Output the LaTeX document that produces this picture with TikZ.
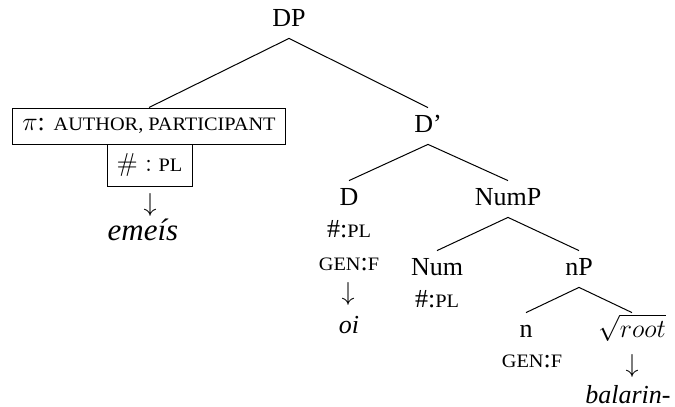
\RequirePackage{fix-cm}
\documentclass[tikz,border=0pt]{standalone}
\usepackage[no-math]{fontspec}
\setmainfont{Liberation Serif}
% stretched capitals stand in for small caps
\newfontfamily\capsfont[FakeStretch=1.07]{Liberation Serif}
\newcommand{\fsc}[1]{{\capsfont\fontsize{9.5}{10}\selectfont #1}}

\begin{document}
\begin{tikzpicture}[x=0.5pt,y=-0.5pt,
  every node/.style={font=\fontsize{13}{15}\selectfont, inner sep=0pt},
  cat/.style={text height=9pt, text depth=3pt, inner ysep=3pt, inner xsep=2pt, anchor=base},
  feat/.style={anchor=base},
  featbox/.style={draw, line width=0.5pt, inner sep=0pt, anchor=center},
  branch/.style={line width=0.5pt}]
\useasboundingbox (0,0) rectangle (675,407);

% categories
\node[cat] (DP) at (289,26) {DP};
\node[cat] (Dbar) at (428,132) {D’};
\node[cat] (D) at (349,205) {D};
\node[cat] (NumP) at (508,205) {NumP};
\node[cat] (Num) at (437,275) {Num};
\node[cat] (nP) at (579,275) {nP};
\node[cat] (n) at (526,337) {n};
\node[cat] (root) at (632,337) {$\sqrt{root}$};

% boxed features of the specifier
\node[featbox, minimum width=136.5pt, minimum height=18pt] (pers) at (149,126)
  {$\pi$: \fsc{AUTHOR, PARTICIPANT}};
\node[featbox, minimum width=42.5pt, minimum height=21pt] (numbox) at (149.5,165)
  {$\#:$ \fsc{PL}};
\node (arr1) at (150,205) {$\downarrow$};
\node[feat] (emeis) at (143,240) {\fontsize{15.5}{17}\selectfont\itshape emeís};

% features under D
\node[feat] (Dnum) at (349,237) {\#:\fsc{PL}};
\node[feat] (Dgen) at (349,270) {\fsc{GEN}:\fsc{F}};
\node (arr2) at (348,294) {$\downarrow$};
\node[feat] (oi) at (349,333) {\itshape oi};

% features under Num, n and the root
\node[feat] (Numnum) at (437,307) {\#:\fsc{PL}};
\node[feat] (ngen) at (532,367) {\fsc{GEN}:\fsc{F}};
\node (arr3) at (632,366) {$\downarrow$};
\node[feat] (bal) at (628,403) {\itshape balarin-};

% branches
\draw[branch] (DP.south) -- (pers.north);
\draw[branch] (DP.south) -- (Dbar.north);
\draw[branch] (Dbar.south) -- (D.north);
\draw[branch] (Dbar.south) -- (NumP.north);
\draw[branch] (NumP.south) -- (Num.north);
\draw[branch] (NumP.south) -- (nP.north);
\draw[branch] (nP.south) -- (n.north);
\draw[branch] (nP.south) -- (root.north);
\end{tikzpicture}
\end{document}
